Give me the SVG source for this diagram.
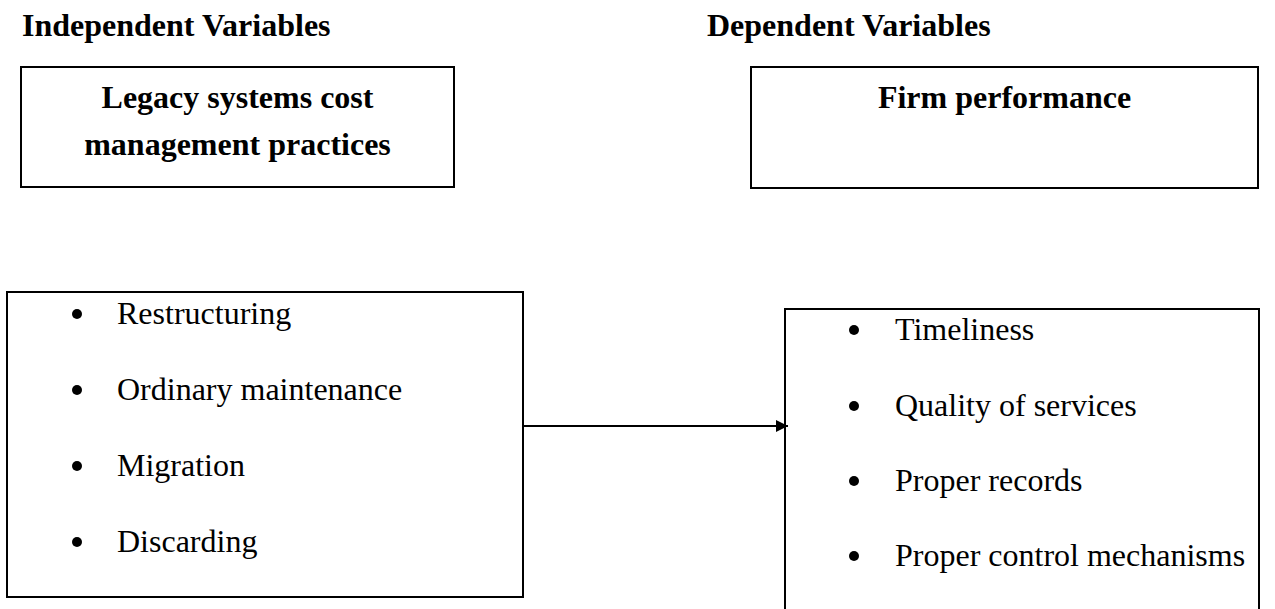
<svg xmlns="http://www.w3.org/2000/svg" width="1275" height="609" viewBox="0 0 1275 609">
<style>
  .bg { fill: #ffffff; }
  .box { fill: none; stroke: #000; stroke-width: 2; }
  .hd { font-family: "Liberation Serif", "Times New Roman", serif; font-size: 32px; font-weight: bold; fill: #000; }
  .tt { font-family: "Liberation Serif", "Times New Roman", serif; font-size: 32px; font-weight: bold; fill: #000; text-anchor: middle; }
  .it { font-family: "Liberation Serif", "Times New Roman", serif; font-size: 32px; fill: #000; }
  .dot { fill: #000; }
  .conn { stroke: #000; stroke-width: 2; fill: none; }
</style>
<defs>
  <marker id="arrow" viewBox="0 0 10 10" refX="10" refY="5" markerWidth="7.5" markerHeight="6" markerUnits="strokeWidth" orient="auto">
    <path d="M0,0 L10,5 L0,10 z" fill="#000"/>
  </marker>
</defs>
<rect class="bg" x="0" y="0" width="1275" height="609"/>

<g id="heading-independent">
  <text class="hd" x="22" y="36">Independent Variables</text>
</g>
<g id="heading-dependent">
  <text class="hd" x="707" y="36">Dependent Variables</text>
</g>

<g id="node-legacy">
  <rect class="box" x="21" y="67" width="433" height="120"/>
  <text class="tt" x="237.5" y="108">Legacy systems cost</text>
  <text class="tt" x="237.5" y="155">management practices</text>
</g>

<g id="node-firm">
  <rect class="box" x="751" y="67" width="507" height="121"/>
  <text class="tt" x="1004.5" y="108">Firm performance</text>
</g>

<g id="node-practices">
  <rect class="box" x="7" y="292" width="516" height="305"/>
  <circle class="dot" cx="77" cy="314" r="5"/>
  <text class="it" x="117" y="324">Restructuring</text>
  <circle class="dot" cx="77" cy="390" r="5"/>
  <text class="it" x="117" y="400">Ordinary maintenance</text>
  <circle class="dot" cx="77" cy="466" r="5"/>
  <text class="it" x="117" y="476">Migration</text>
  <circle class="dot" cx="77" cy="542" r="5"/>
  <text class="it" x="117" y="552">Discarding</text>
</g>

<g id="node-performance">
  <path class="box" d="M785,615 V309 H1259 V615"/>
  <circle class="dot" cx="854" cy="330" r="5"/>
  <text class="it" x="895" y="340">Timeliness</text>
  <circle class="dot" cx="854" cy="406" r="5"/>
  <text class="it" x="895" y="416">Quality of services</text>
  <circle class="dot" cx="854" cy="481" r="5"/>
  <text class="it" x="895" y="491">Proper records</text>
  <circle class="dot" cx="854" cy="556" r="5"/>
  <text class="it" x="895" y="566">Proper control mechanisms</text>
</g>

<g id="connectors">
  <line class="conn" x1="524" y1="426" x2="788" y2="426" marker-end="url(#arrow)"/>
</g>
</svg>
